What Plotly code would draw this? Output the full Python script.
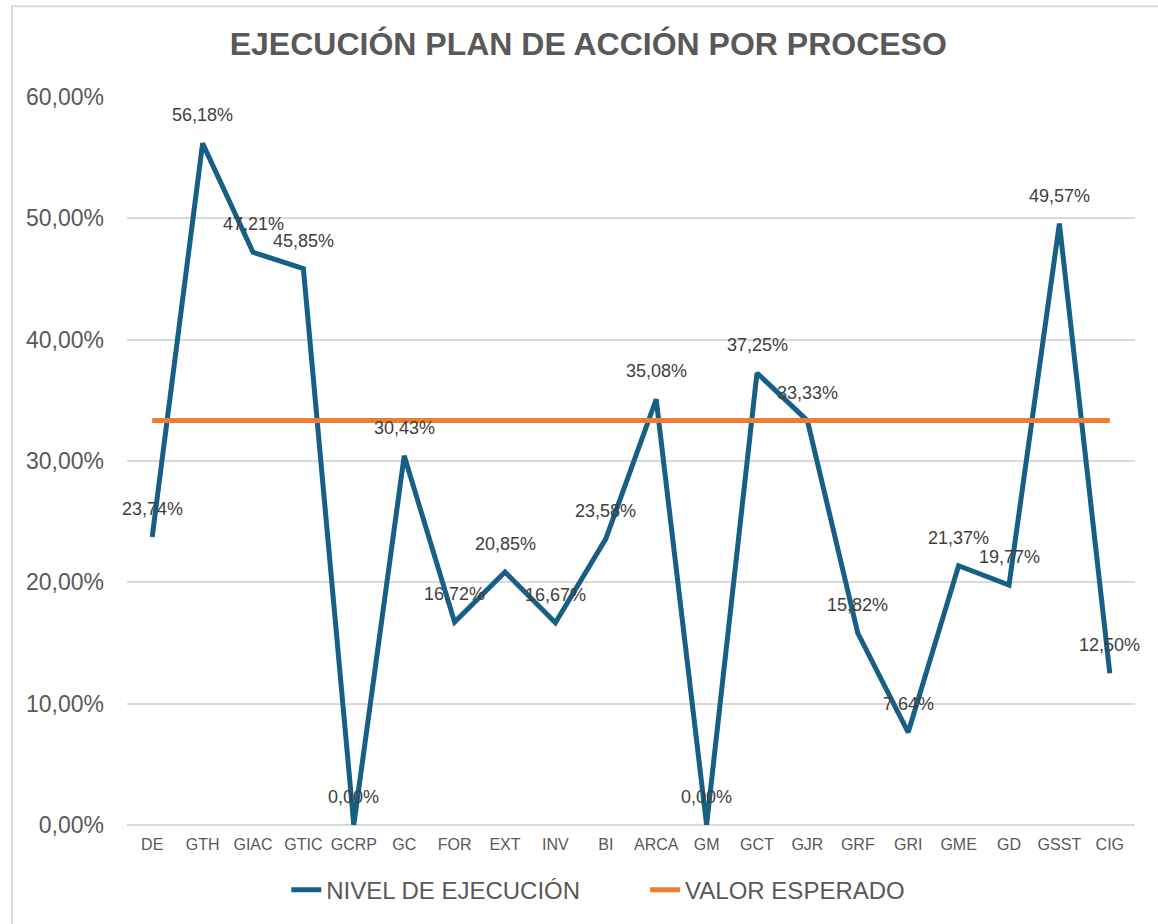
import plotly.graph_objects as go

categories = ["DE", "GTH", "GIAC", "GTIC", "GCRP", "GC", "FOR", "EXT", "INV", "BI",
              "ARCA", "GM", "GCT", "GJR", "GRF", "GRI", "GME", "GD", "GSST", "CIG"]
nivel_ejecucion = [23.74, 56.18, 47.21, 45.85, 0.00, 30.43, 16.72, 20.85, 16.67, 23.58,
                   35.08, 0.00, 37.25, 33.33, 15.82, 7.64, 21.37, 19.77, 49.57, 12.50]
valor_esperado = [33.33] * len(categories)
y_ticks = [0, 10, 20, 30, 40, 50, 60]

title_text = "EJECUCIÓN PLAN DE ACCIÓN POR PROCESO"
series_names = ["NIVEL DE EJECUCIÓN", "VALOR ESPERADO"]

FONT = "Liberation Sans, Arial, sans-serif"
BLUE = "#175F84"
ORANGE = "#ED7D31"
GRAY_TXT = "#595959"

def fmt(v):
    return f"{v:.2f}".replace(".", ",") + "%"

fig = go.Figure()
fig.add_trace(go.Scatter(
    x=categories, y=nivel_ejecucion, mode="lines", name=series_names[0],
    line=dict(color=BLUE, width=5), cliponaxis=False, hoverinfo="skip",
    legend="legend"))
fig.add_trace(go.Scatter(
    x=categories, y=valor_esperado, mode="lines", name=series_names[1],
    line=dict(color=ORANGE, width=5), cliponaxis=False, hoverinfo="skip",
    legend="legend2"))

for c, v in zip(categories, nivel_ejecucion):
    fig.add_annotation(x=c, y=v, text=fmt(v), showarrow=False, yshift=28,
                       font=dict(family=FONT, size=18, color="#404040"))

fig.add_shape(type="rect", xref="paper", yref="paper",
              x0=-0.114, x1=1.1, y0=-0.2, y1=1.1248,
              line=dict(color="#D9D9D9", width=2), fillcolor="rgba(0,0,0,0)", layer="below")

legend_style = dict(orientation="h", xanchor="left", y=-0.088, yanchor="middle",
                    font=dict(family=FONT, size=24, color=GRAY_TXT),
                    bgcolor="rgba(0,0,0,0)")

fig.update_layout(
    width=1158, height=924,
    paper_bgcolor="white", plot_bgcolor="white",
    margin=dict(l=127, r=23, t=97, b=98),
    separators=",.",
    font=dict(family=FONT, color=GRAY_TXT),
    title=dict(text="<b>" + title_text + "</b>", x=0.508, xanchor="center",
               y=1 - 44 / 924, yanchor="middle",
               font=dict(family=FONT, size=32, color=GRAY_TXT)),
    xaxis=dict(type="category", range=[-0.5, len(categories) - 0.5],
               showgrid=False, showline=False, zeroline=False,
               tickfont=dict(family=FONT, size=16, color=GRAY_TXT),
               ticklabelstandoff=8, fixedrange=True),
    yaxis=dict(range=[0, 60], tickvals=y_ticks, ticktext=[fmt(t) for t in y_ticks],
               showgrid=True, gridcolor="#D9D9D9", gridwidth=1.5,
               zeroline=True, zerolinecolor="#D9D9D9", zerolinewidth=1.5,
               showline=False,
               tickfont=dict(family=FONT, size=23, color=GRAY_TXT),
               ticklabelstandoff=22, fixedrange=True),
    legend=dict(x=0.158, **legend_style),
    legend2=dict(x=0.514, **legend_style),
    showlegend=True,
)

fig.write_html("out.html", config={"displayModeBar": False},
               post_script="document.body.style.margin='0';document.body.style.overflow='hidden';")
